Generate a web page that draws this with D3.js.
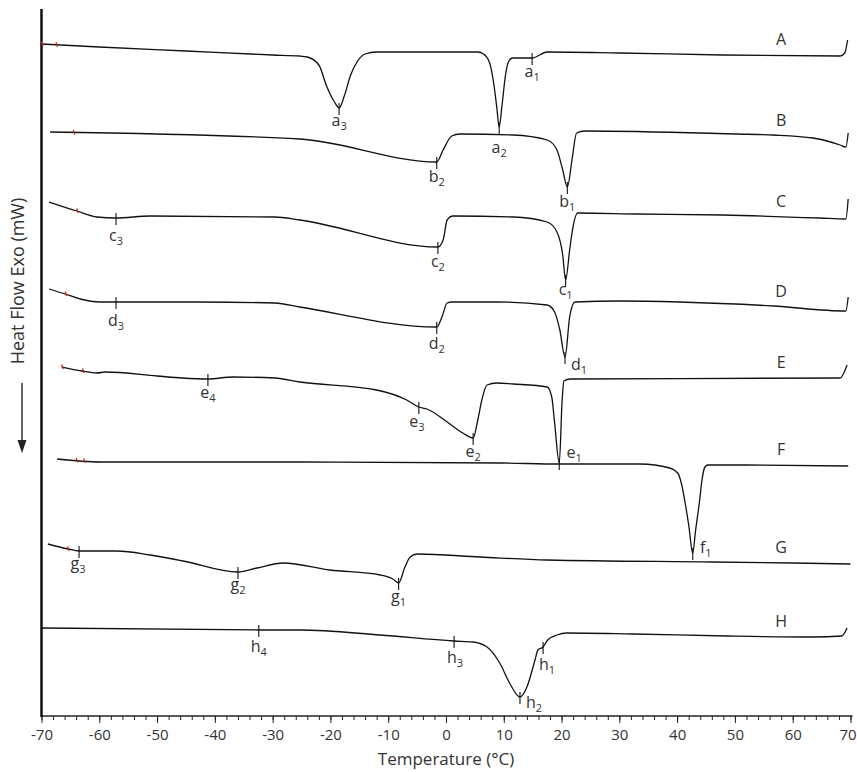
<!DOCTYPE html>
<html>
<head>
<meta charset="utf-8">
<script src="https://cdn.jsdelivr.net/npm/d3@7"></script>
<style>
    body { margin: 0; background: #fff; }
    svg text { font-family: "Open Sans", "Noto Sans", sans-serif; fill: #333; }
</style>
</head>
<body>
<div id="chart"></div>
<script>

// DSC thermograms: [temperature (°C), heat flow (mW, curves stacked)]
const curveA = [[-70,-3.5],[-60,-3.8],[-45,-4.2],[-30,-4.6],[-25.3,-4.7],[-24,-4.8],[-22,-5.6],[-20.6,-7.8],[-19.3,-9.3],[-18.5,-9.9],
    [-17.6,-8.7],[-16.5,-6.6],[-15.4,-5.3],[-14,-4.5],[-12,-4.3],[0,-4.3],[5.5,-4.3],[6.5,-4.5],[7.5,-5.3],[8.3,-7.6],[8.8,-9.9],
    [9.2,-11.8],[9.7,-9.6],[10.3,-6.6],[10.8,-5.3],[11.5,-4.9],[14.9,-4.9],[17.5,-4.3],[30,-4.4],[47.9,-4.6],[68.2,-4.7],[69,-4.4],[69.5,-3.1]];
const curveB = [[-68.5,-12.3],[-25.3,-13.0],[-1.6,-15.3],[-0.5,-14.1],[1.0,-12.7],[2.4,-12.5],[11.6,-12.6],[17.5,-13.1],[19.2,-14.1],
    [20.2,-16.1],[21.0,-17.8],[21.8,-15.1],[22.6,-12.4],[24.0,-12.2],[50.3,-12.5],[56.6,-12.6],[63.5,-12.9],[68.2,-13.6],[69.2,-13.8],[69.6,-12.4]];
const curveC = [[-68.7,-19.3],[-63.9,-20.2],[-60.4,-20.8],[-57.1,-20.9],[-51.2,-20.7],[-29.6,-20.8],[-25.3,-21.1],[-1.4,-23.8],[-0.5,-23.1],
    [0.2,-21.1],[1.2,-20.7],[11.6,-20.8],[17.5,-21.3],[19.2,-22.3],[20.2,-24.6],[20.7,-27.1],[21.4,-24.1],[21.8,-22.4],[22.8,-20.4],
    [33.0,-20.5],[47.9,-20.6],[64.7,-20.9],[69.2,-21.0],[69.6,-19.0]];
const curveD = [[-68.7,-28.0],[-65.9,-28.5],[-63.3,-29.0],[-59.9,-29.3],[-57.1,-29.3],[-42.6,-29.3],[-29.6,-29.4],[-25.3,-29.8],[-1.6,-31.8],
    [-0.7,-30.8],[0.2,-29.4],[1.0,-29.3],[8.8,-29.3],[17.5,-29.6],[18.8,-30.3],[19.7,-32.1],[20.6,-34.8],[21.4,-30.8],[22.3,-29.3],
    [30.1,-29.2],[40.4,-29.3],[56.6,-29.7],[69.2,-30.2],[69.6,-28.8]];
const curveE = [[-66.5,-35.8],[-63.0,-36.2],[-60.4,-36.4],[-59.0,-36.3],[-50.0,-36.7],[-45.7,-36.9],[-41.2,-37.0],[-36.9,-36.8],[-29.6,-36.9],
    [-25.3,-37.3],[-12.0,-38.1],[-6.8,-39.1],[-4.7,-39.8],[-3.3,-40.0],[0.2,-41.3],[2.9,-42.4],[4.7,-42.9],[5.5,-41.1],[6.2,-39.1],
    [7.1,-37.6],[8.8,-37.4],[11.6,-37.5],[17.5,-37.8],[18.3,-38.8],[18.8,-41.4],[19.6,-45.4],[20.1,-39.1],[20.4,-37.2],[21.5,-37.0],
    [68.2,-36.9],[69.4,-35.6]];
const curveF = [[-67.3,-45.0],[-59.9,-45.3],[-25.3,-45.3],[9.7,-45.4],[19.6,-45.5],[33.6,-45.5],[38.7,-45.9],[40.1,-46.4],[40.8,-47.6],
    [41.3,-49.1],[42.0,-51.6],[42.7,-54.4],[43.2,-52.1],[43.9,-49.1],[44.3,-47.1],[44.8,-45.8],[45.3,-45.6],[50.3,-45.6],[69.6,-45.7]];
const curveG = [[-68.9,-53.5],[-65.4,-54.0],[-63.5,-54.2],[-56.9,-54.2],[-51.2,-54.6],[-45.5,-55.2],[-36.0,-56.3],[-32.7,-55.9],[-28.2,-55.4],
    [-20.1,-56.1],[-11.4,-56.6],[-9.2,-57.0],[-8.2,-57.4],[-7.1,-55.8],[-6.2,-54.8],[-5.0,-54.5],[5.9,-54.8],[17.5,-55.1],[46.2,-55.3],
    [60.0,-55.4],[70,-55.5]];
const curveH = [[-70,-61.9],[-32.4,-62.1],[-25.3,-62.1],[-11.4,-62.6],[1.4,-63.2],[4.7,-63.3],[7.1,-63.8],[9.3,-65.4],[11.0,-67.4],
    [12.8,-68.8],[14.0,-67.8],[15.4,-65.1],[15.9,-64.1],[16.8,-63.8],[17.6,-63.1],[19.2,-62.6],[20.9,-62.4],[32.3,-62.5],[48.6,-62.7],
    [63.5,-62.8],[68.5,-62.7],[69.4,-61.9]];

const curveNames = ['A', 'B', 'C', 'D', 'E', 'F', 'G', 'H'];
const curves = [curveA, curveB, curveC, curveD, curveE, curveF, curveG, curveH];

// transition marks: curve, letter, subscript, temperature (°C)
const peakMarks = [
    ['A','a','1',14.9], ['A','a','2',9.2], ['A','a','3',-18.5],
    ['B','b','1',21.0], ['B','b','2',-1.6],
    ['C','c','1',20.7], ['C','c','2',-1.4], ['C','c','3',-57.1],
    ['D','d','1',20.6], ['D','d','2',-1.6], ['D','d','3',-57.1],
    ['E','e','1',19.6], ['E','e','2',4.7], ['E','e','3',-4.7], ['E','e','4',-41.2],
    ['F','f','1',42.7],
    ['G','g','1',-8.2], ['G','g','2',-36.0], ['G','g','3',-63.5],
    ['H','h','1',16.8], ['H','h','2',12.8], ['H','h','3',1.4], ['H','h','4',-32.4]
];

// small red start-of-run marks
const startMarks = [['A',-70],['A',-67.5],['B',-64.5],['C',-63.9],['D',-65.9],['E',-66.5],['E',-62.9],['F',-64],['F',-62.7],['G',-65.5]];

const xTickValues = d3.range(-70, 71, 10);
const xMinorValues = d3.range(-70, 71, 2);

// label placement (text baseline relative to the marked point)
const labelOffsets = {
    a1:[0,19], a2:[0,26], a3:[0,18], b1:[0,20], b2:[0,20], c1:[0,15], c2:[0,20], c3:[0,23],
    d1:[14,13], d2:[0,22], d3:[0,24], e1:[15,-5], e2:[0,19], e3:[-2,20], e4:[0,19],
    f1:[13,0], g1:[0,19], g2:[0,18], g3:[-1,18], h1:[4,23], h2:[14,11], h3:[1,22], h4:[0,22]
};

class DscVis {
    constructor(parentElement) {
        this.parentElement = parentElement;
        this.initVis();
    }

    initVis() {
        let vis = this;

        const width = 857;
        const height = 772;

        vis.margin = { top: 9, right: 6.5, bottom: 56, left: 41.5 };
        vis.width = width - vis.margin.left - vis.margin.right;
        vis.height = height - vis.margin.top - vis.margin.bottom;

        vis.svgRoot = d3.select('#' + vis.parentElement)
            .append('svg')
            .attr('width', width)
            .attr('height', height);

        vis.svg = vis.svgRoot.append('g')
            .attr('transform', `translate(${vis.margin.left}, ${vis.margin.top})`);

        vis.x = d3.scaleLinear().domain([-70, 70]).range([0, vis.width]);
        vis.y = d3.scaleLinear().domain([-70.7, 0]).range([vis.height, 0]);

        vis.line = d3.line()
            .x(d => vis.x(d[0]))
            .y(d => vis.y(d[1]))
            .curve(d3.curveMonotoneX);

        // x axis: minor ticks every 2 °C, labelled ticks every 10 °C
        vis.svg.append('g')
            .attr('transform', `translate(0, ${vis.height})`)
            .call(d3.axisBottom(vis.x).tickValues(xMinorValues).tickSize(4).tickFormat(''))
            .call(g => g.select('.domain').remove())
            .call(g => g.selectAll('line').attr('stroke', '#222'));

        vis.svg.append('g')
            .attr('transform', `translate(0, ${vis.height})`)
            .call(d3.axisBottom(vis.x).tickValues(xTickValues).tickSize(7).tickPadding(6).tickSizeOuter(0)
                .tickFormat(d => String(d)))
            .call(g => g.select('.domain').attr('stroke', '#222').attr('stroke-width', 1.5).attr('d', `M0,0H${vis.width + 2}`))
            .call(g => g.selectAll('line').attr('stroke', '#222'))
            .call(g => g.selectAll('text').attr('font-size', 15).attr('fill', '#333')
                .style('font-family', '"Open Sans", sans-serif'))
            .call(g => g.selectAll('.tick').filter(d => d === 70).select('text').attr('dx', -3));

        // y axis line only
        vis.svg.append('line')
            .attr('x1', 0).attr('x2', 0)
            .attr('y1', 0).attr('y2', vis.height + 1)
            .attr('stroke', '#111')
            .attr('stroke-width', 2.5);

        // axis titles
        vis.svg.append('text')
            .attr('x', vis.width / 2)
            .attr('y', vis.height + 49)
            .attr('text-anchor', 'middle')
            .attr('font-size', 17)
            .text('Temperature (°C)');

        vis.svgRoot.append('text')
            .attr('transform', 'translate(24, 281) rotate(-90)')
            .attr('text-anchor', 'middle')
            .attr('font-size', 18)
            .text('Heat Flow Exo (mW)');

        // arrow under the y title
        vis.svgRoot.append('line')
            .attr('x1', 22).attr('x2', 22)
            .attr('y1', 383).attr('y2', 442)
            .attr('stroke', '#333')
            .attr('stroke-width', 1.5);
        vis.svgRoot.append('path')
            .attr('d', 'M17.5,440 L26.5,440 L22,453 Z')
            .attr('fill', '#222');

        vis.wrangleData();
    }

    wrangleData() {
        let vis = this;

        vis.displayData = curveNames.map((name, i) => ({ name: name, values: curves[i] }));
        vis.byName = {};
        vis.displayData.forEach(d => vis.byName[d.name] = d.values);

        vis.marks = peakMarks.map(m => ({
            curve: m[0], letter: m[1], sub: m[2], temp: m[3],
            value: valueAt(vis.byName[m[0]], m[3])
        }));

        vis.updateVis();
    }

    updateVis() {
        let vis = this;

        vis.svg.selectAll('.dsc-curve')
            .data(vis.displayData, d => d.name)
            .enter()
            .append('path')
            .attr('class', 'dsc-curve')
            .attr('d', d => vis.line(d.values))
            .attr('fill', 'none')
            .attr('stroke', '#111')
            .attr('stroke-width', 1.3);

        // curve names near the right end
        vis.svg.selectAll('.curve-name')
            .data(vis.displayData)
            .enter()
            .append('text')
            .attr('class', 'curve-name')
            .attr('x', vis.x(58))
            .attr('y', d => vis.y(valueAt(d.values, 58)) - 10)
            .attr('text-anchor', 'middle')
            .attr('font-size', 16)
            .text(d => d.name);

        // start markers
        vis.svg.selectAll('.start-mark')
            .data(startMarks)
            .enter()
            .append('line')
            .attr('class', 'start-mark')
            .attr('x1', d => vis.x(d[1]))
            .attr('x2', d => vis.x(d[1]) + 1.5)
            .attr('y1', d => vis.y(valueAt(vis.byName[d[0]], d[1])) - 2.5)
            .attr('y2', d => vis.y(valueAt(vis.byName[d[0]], d[1])) + 2)
            .attr('stroke', '#d02020')
            .attr('stroke-width', 1.3);

        // transition ticks
        vis.svg.selectAll('.peak-tick')
            .data(vis.marks)
            .enter()
            .append('line')
            .attr('class', 'peak-tick')
            .attr('x1', d => vis.x(d.temp))
            .attr('x2', d => vis.x(d.temp))
            .attr('y1', d => vis.y(d.value) - 5)
            .attr('y2', d => vis.y(d.value) + 7)
            .attr('stroke', '#111')
            .attr('stroke-width', 1.1);

        let labels = vis.svg.selectAll('.peak-label')
            .data(vis.marks)
            .enter()
            .append('text')
            .attr('class', 'peak-label')
            .attr('x', d => vis.x(d.temp) + labelOffsets[d.letter + d.sub][0])
            .attr('y', d => vis.y(d.value) + labelOffsets[d.letter + d.sub][1])
            .attr('text-anchor', 'middle')
            .attr('font-size', 16);

        labels.append('tspan').text(d => d.letter);
        labels.append('tspan')
            .attr('dy', 4)
            .attr('font-size', 11)
            .text(d => d.sub);
    }
}

// linear read of a curve at a given temperature
function valueAt(values, t) {
    let i = d3.bisector(d => d[0]).left(values, t);
    if (i <= 0) return values[0][1];
    if (i >= values.length) return values[values.length - 1][1];
    let a = values[i - 1], b = values[i];
    return a[1] + (b[1] - a[1]) * (t - a[0]) / (b[0] - a[0]);
}

new DscVis('chart');

</script>
</body>
</html>
